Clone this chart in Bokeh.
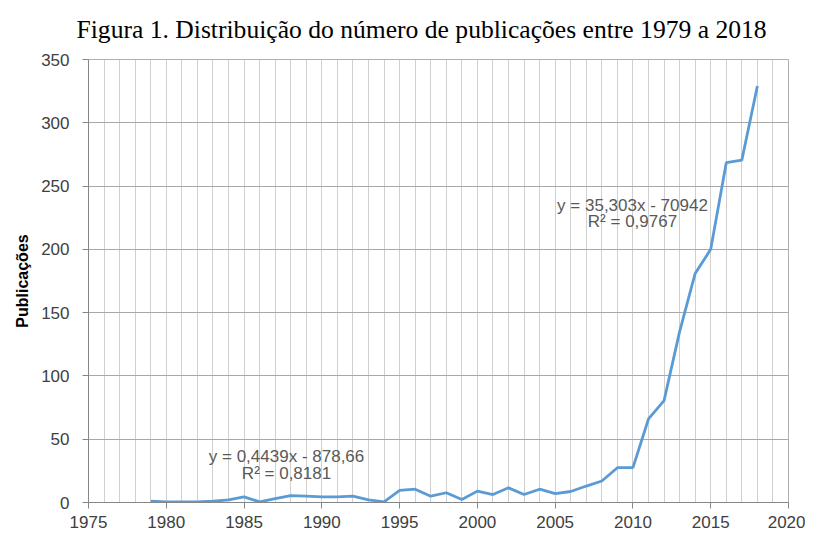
from bokeh.plotting import figure
from bokeh.models import SingleIntervalTicker, Label, Range1d
from bokeh.embed import file_html
from bokeh.resources import INLINE

years = list(range(1979, 2019))
publicacoes = [1, 0.5, 0.5, 0.5, 1, 2, 4.5, 0.5, 3, 5.5, 5, 4.5, 4.5, 5, 2, 0.5,
               9.5, 10.5, 5, 7.7, 2.4, 9, 6.3, 11.6, 6.3, 10.5, 7, 8.7, 13, 17,
               27.5, 27.5, 66, 80.5, 135, 181, 200, 268.5, 270.5, 329]

x_ticks_interval = 5
y_ticks_interval = 50
trend1 = ["y = 0,4439x - 878,66", "R\u00b2 = 0,8181"]
trend2 = ["y = 35,303x - 70942", "R\u00b2 = 0,9767"]
title_text = "Figura 1. Distribui\u00e7\u00e3o do n\u00famero de publica\u00e7\u00f5es entre 1979 a 2018"
y_label = "Publica\u00e7\u00f5es"

p = figure(frame_width=700, frame_height=443, output_backend="svg", toolbar_location=None,
           x_range=Range1d(1975, 2020), y_range=Range1d(0, 350),
           min_border_left=88, min_border_right=17, min_border_top=59, min_border_bottom=20,
           title=title_text)

p.title.text_font = "Liberation Serif"
p.title.text_font_size = "25.6px"
p.title.text_font_style = "normal"
p.title.align = "left"
p.title.offset = -12
p.title.standoff = 28
p.title.vertical_align = "top"
p.title.text_color = "#000000"

p.line(years, publicacoes, line_color="#5B9BD5", line_width=2.8)

p.xaxis.ticker = SingleIntervalTicker(interval=x_ticks_interval, num_minor_ticks=5)
p.yaxis.ticker = SingleIntervalTicker(interval=y_ticks_interval, num_minor_ticks=0)

for ax in (p.xaxis, p.yaxis):
    ax.major_label_text_font = "Liberation Sans"
    ax.major_label_text_font_size = "17px"
    ax.major_label_text_color = "#404040"
    ax.axis_line_color = "#868686"
    ax.major_tick_line_color = "#868686"
    ax.minor_tick_line_color = None
    ax.major_tick_in = 0
    ax.major_tick_out = 6

p.xaxis.major_label_standoff = 7
p.yaxis.major_label_standoff = 13
p.yaxis.axis_label = y_label
p.yaxis.axis_label_text_font = "Liberation Sans"
p.yaxis.axis_label_text_font_size = "16px"
p.yaxis.axis_label_text_font_style = "bold"
p.yaxis.axis_label_text_color = "#000000"
p.yaxis.axis_label_standoff = 7

p.xgrid.grid_line_color = "#d0d0d0"
p.xgrid.minor_grid_line_color = "#d0d0d0"
p.ygrid.grid_line_color = "#a8a8a8"
p.outline_line_color = "#b0b0b0"

ann_style = dict(text_font="Liberation Sans", text_font_size="17px", text_color="#595959",
                 text_align="center", text_baseline="middle")
p.add_layout(Label(x=1987.73, y=36.3, text=trend1[0], **ann_style))
p.add_layout(Label(x=1987.73, y=22.9, text=trend1[1], **ann_style))
p.add_layout(Label(x=2009.97, y=234.6, text=trend2[0], **ann_style))
p.add_layout(Label(x=2009.97, y=222.0, text=trend2[1], **ann_style))

open("out.html", "w").write(file_html(p, INLINE))
